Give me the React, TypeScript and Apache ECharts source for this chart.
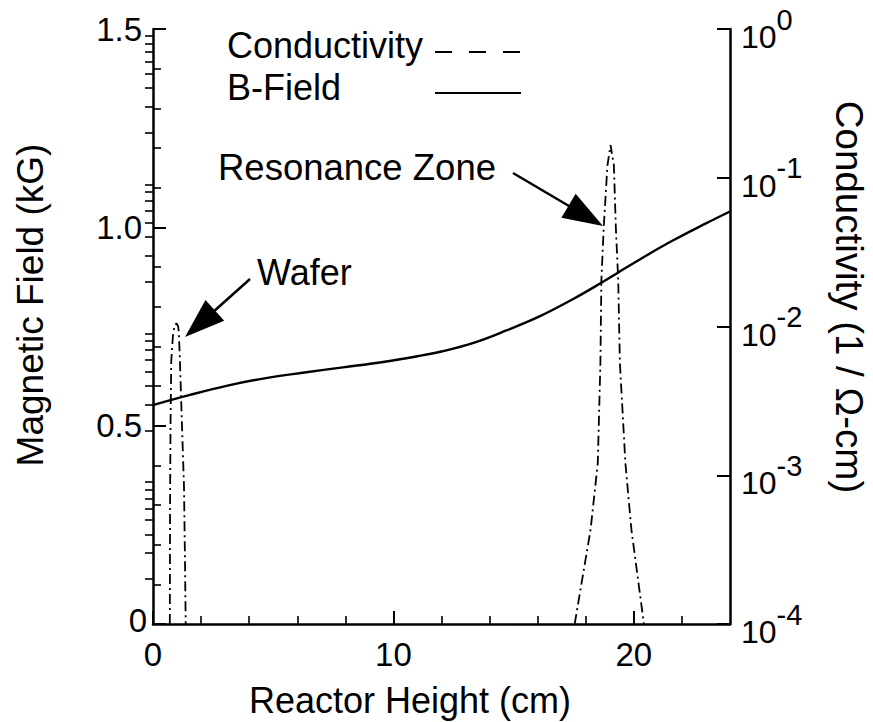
import React, { useEffect, useRef } from "react";
import * as echarts from "echarts";

// ---- data ----
const bFieldX = [0, 1.5, 3.1, 4.7, 6.3, 7.9, 9.5, 11.0, 12.0, 13.3, 14.7, 16.1, 17.5, 18.7, 19.4, 20.3, 21.6, 23.0, 24];
const bFieldY = [0.552, 0.577, 0.601, 0.620, 0.634, 0.647, 0.660, 0.675, 0.687, 0.708, 0.740, 0.776, 0.820, 0.862, 0.888, 0.921, 0.966, 1.010, 1.040];

const waferX = [0.70, 0.71, 0.73, 0.76, 0.83, 0.90, 0.98, 1.05, 1.08, 1.12, 1.20, 1.29, 1.33, 1.36];
const waferY = [1e-4, 6.8e-4, 2.3e-3, 5.9e-3, 8.7e-3, 1.02e-2, 1.05e-2, 1.0e-2, 8.7e-3, 5.9e-3, 2.3e-3, 8.3e-4, 2.7e-4, 1e-4];

const resX = [17.54, 18.2, 18.5, 18.61, 18.65, 18.75, 18.9, 19.03, 19.17, 19.25, 19.35, 19.42, 19.65, 19.9, 20.42];
const resY = [1e-4, 4.3e-4, 1.2e-3, 5.7e-3, 2.06e-2, 4.7e-2, 0.12, 0.166, 0.122, 4.7e-2, 2.06e-2, 5.7e-3, 1.2e-3, 4.3e-4, 1e-4];

const xMajorTicks = [0, 10, 20];
const xMinorTicks = [2, 4, 6, 8, 12, 14, 16, 18, 22];
const logDecades = [-4, -3, -2, -1];
const logMinorMultipliers = [2, 3, 4, 5, 6, 7, 8, 9];

const FONT = "'Liberation Sans', Arial, Helvetica, sans-serif";

function pairs(xs: number[], ys: number[]) {
  return xs.map((x, i) => [x, ys[i]]);
}

function arrow(tail: number[], tip: number[], headLen = 40, halfW = 14) {
  const dx = tip[0] - tail[0];
  const dy = tip[1] - tail[1];
  const len = Math.hypot(dx, dy);
  const ux = dx / len;
  const uy = dy / len;
  const bx = tip[0] - ux * headLen;
  const by = tip[1] - uy * headLen;
  const px = -uy;
  const py = ux;
  return [
    {
      type: "line",
      shape: { x1: tail[0], y1: tail[1], x2: bx + ux * 2, y2: by + uy * 2 },
      style: { stroke: "#000", lineWidth: 2.5 },
    },
    {
      type: "polygon",
      shape: {
        points: [
          [tip[0], tip[1]],
          [bx + px * halfW, by + py * halfW],
          [bx - px * halfW, by - py * halfW],
        ],
      },
      style: { fill: "#000" },
    },
  ];
}

function textEl(text: string, x: number, y: number, fontSize: number, align = "left", rotation = 0) {
  return {
    type: "text",
    x,
    y,
    rotation,
    style: {
      text,
      x: 0,
      y: 0,
      fill: "#000",
      fontSize,
      fontFamily: FONT,
      align,
      textAlign: align,
      verticalAlign: "middle",
      textVerticalAlign: "middle",
    },
  };
}

export default function App() {
  const ref = useRef<HTMLDivElement>(null);

  useEffect(() => {
    const chart = echarts.init(ref.current!, null, { renderer: "svg" });

    const logMinor: number[] = [];
    logDecades.forEach((d) => logMinorMultipliers.forEach((m) => logMinor.push(d + Math.log10(m))));

    const axisLineStyle = { color: "#000", width: 2.5 };
    const tickStyle = { color: "#000", width: 2 };
    const minorStyle = { color: "#000", width: 1.6 };

    const option: any = {
      animation: false,
      backgroundColor: "#fff",
      grid: { left: 153, right: 143, top: 29, bottom: 98, containLabel: false, outerBoundsMode: "none" },
      xAxis: [
        {
          type: "value",
          min: 0,
          max: 24,
          interval: 10,
          axisLine: { show: true, onZero: false, lineStyle: axisLineStyle },
          axisTick: { show: true, inside: true, length: 13, lineStyle: tickStyle, customValues: xMajorTicks },
          axisLabel: { color: "#000", fontSize: 33, fontFamily: FONT, margin: 14, customValues: xMajorTicks },
          splitLine: { show: false },
        },
        {
          type: "value",
          min: 0,
          max: 24,
          position: "bottom",
          axisLine: { show: false },
          axisTick: { show: true, inside: true, length: 8, lineStyle: minorStyle, customValues: xMinorTicks },
          axisLabel: { show: false },
          splitLine: { show: false },
        },
      ],
      yAxis: [
        {
          type: "value",
          min: 0,
          max: 1.5,
          interval: 0.5,
          position: "left",
          axisLine: { show: true, onZero: false, lineStyle: axisLineStyle },
          axisTick: { show: true, inside: true, length: 13, lineStyle: tickStyle },
          minorTick: { show: true, splitNumber: 5, length: 8, lineStyle: minorStyle },
          axisLabel: {
            color: "#000",
            fontSize: 33,
            fontFamily: FONT,
            margin: 6,
            formatter: (v: number) => (v === 0 ? "{z|0}" : `{n|${v.toFixed(1)}}`),
            rich: {
              n: { fontSize: 33, fontFamily: FONT, color: "#000", padding: [0, 5, 0, 0] },
              z: { fontSize: 33, fontFamily: FONT, color: "#000", padding: [0, 0, 8, 0] },
            },
          },
          splitLine: { show: false },
        },
        {
          type: "log",
          logBase: 10,
          min: 1e-4,
          max: 1,
          position: "right",
          axisLine: { show: true, onZero: false, lineStyle: axisLineStyle },
          axisTick: { show: true, inside: true, length: 13, lineStyle: tickStyle },
          axisLabel: {
            color: "#000",
            fontFamily: FONT,
            margin: 11,
            formatter: (v: number) => `{b|10}{s|${Math.round(Math.log10(v))}}`,
            rich: {
              b: { fontSize: 32, fontFamily: FONT, color: "#000", lineHeight: 48, verticalAlign: "bottom" },
              s: { fontSize: 29, fontFamily: FONT, color: "#000", verticalAlign: "top" },
            },
          },
          splitLine: { show: false },
        },
        {
          type: "value",
          min: -4,
          max: 0,
          position: "right",
          axisLine: { show: false },
          axisTick: { show: true, inside: true, length: 8, lineStyle: minorStyle, customValues: logMinor },
          axisLabel: { show: false },
          splitLine: { show: false },
        },
      ],
      series: [
        {
          name: "B-Field",
          type: "line",
          xAxisIndex: 0,
          yAxisIndex: 0,
          data: pairs(bFieldX, bFieldY),
          smooth: 0.4,
          symbol: "none",
          lineStyle: { color: "#000", width: 2.4 },
          z: 3,
        },
        {
          name: "Conductivity",
          type: "line",
          xAxisIndex: 0,
          yAxisIndex: 1,
          data: pairs(waferX, waferY),
          symbol: "none",
          clip: true,
          lineStyle: { color: "#000", width: 1.8, type: [10, 4, 2, 4] },
          z: 2,
        },
        {
          name: "Conductivity",
          type: "line",
          xAxisIndex: 0,
          yAxisIndex: 1,
          data: pairs(resX, resY),
          symbol: "none",
          clip: true,
          lineStyle: { color: "#000", width: 1.8, type: [10, 4, 2, 4] },
          z: 2,
        },
      ],
      graphic: [
        textEl("Conductivity", 227, 45, 36),
        textEl("B-Field", 227, 87, 36),
        {
          type: "line",
          shape: { x1: 435, y1: 52, x2: 521, y2: 52 },
          style: { stroke: "#000", lineWidth: 2, lineDash: [17, 17] },
        },
        {
          type: "line",
          shape: { x1: 435, y1: 93, x2: 521, y2: 93 },
          style: { stroke: "#000", lineWidth: 2.2 },
        },
        textEl("Resonance Zone", 218, 167, 36.5),
        textEl("Wafer", 257, 272, 36),
        ...arrow([513, 173], [603, 226]),
        ...arrow([250, 279], [185, 337]),
        textEl("Magnetic Field (kG)", 30, 305, 37, "center", Math.PI / 2),
        textEl("Conductivity (1 / Ω-cm)", 849, 297, 38.5, "center", -Math.PI / 2),
        textEl("Reactor Height (cm)", 410, 700, 36, "center"),
      ],
    };

    chart.setOption(option);
    return () => chart.dispose();
  }, []);

  return (
    <div
      ref={ref}
      style={{ position: "fixed", left: 0, top: 0, width: 873, height: 722, background: "#fff" }}
    />
  );
}
